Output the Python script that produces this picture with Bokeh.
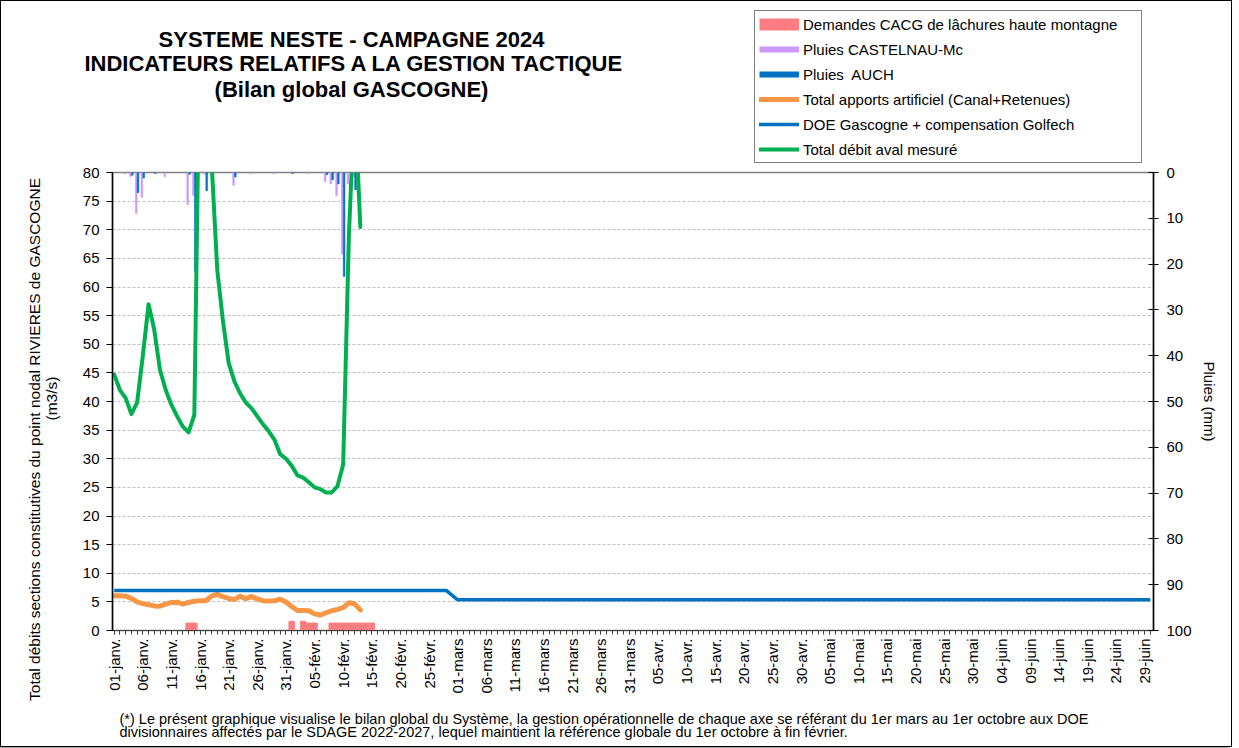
from math import pi
from bokeh.plotting import figure
from bokeh.layouts import row, column
from bokeh.models import (Range1d, LinearAxis, FixedTicker, Label, Legend, LegendItem,
                          ColumnDataSource)
from bokeh.transform import dodge
from bokeh.embed import file_html
from bokeh.resources import INLINE

# ---------------- data ----------------
# x axis: day index counted from 01-janv. 2024
tick_days = list(range(0, 181, 5))
tick_labels = ["01-janv.", "06-janv.", "11-janv.", "16-janv.", "21-janv.", "26-janv.", "31-janv.",
               "05-févr.", "10-févr.", "15-févr.", "20-févr.", "25-févr.",
               "01-mars", "06-mars", "11-mars", "16-mars", "21-mars", "26-mars", "31-mars",
               "05-avr.", "10-avr.", "15-avr.", "20-avr.", "25-avr.", "30-avr.",
               "05-mai", "10-mai", "15-mai", "20-mai", "25-mai", "30-mai",
               "04-juin", "09-juin", "14-juin", "19-juin", "24-juin", "29-juin"]
all_days = list(range(0, 182))

# Total débit aval mesuré (m3/s), days 0..43
green_days = list(range(0, 44))
green_vals = [44.7, 42.0, 40.6, 37.8, 39.8, 48.0, 57.0, 52.5, 45.5, 42.0,
              39.4, 37.4, 35.6, 34.6, 37.7, 108.0, 110.0, 82.0, 63.0, 54.0,
              46.7, 43.5, 41.4, 39.8, 38.8, 37.4, 36.0, 34.8, 33.3, 30.8,
              30.0, 28.8, 27.1, 26.7, 25.9, 25.0, 24.7, 24.1, 24.1, 25.2,
              29.0, 69.0, 93.0, 70.5]

# Total apports artificiel (Canal+Retenues), days 0..43
orange_days = list(range(0, 44))
orange_vals = [6.05, 6.05, 6.0, 5.6, 5.0, 4.7, 4.5, 4.3, 4.25, 4.6,
               4.9, 4.95, 4.6, 4.9, 5.1, 5.2, 5.2, 6.0, 6.3, 5.9,
               5.6, 5.4, 6.0, 5.55, 5.95, 5.5, 5.2, 5.15, 5.2, 5.45,
               5.0, 4.2, 3.5, 3.5, 3.45, 2.9, 2.7, 3.1, 3.45, 3.7,
               4.0, 4.85, 4.65, 3.6]

# DOE Gascogne + compensation Golfech
doe_days = [0, 58, 60, 181]
doe_vals = [7.0, 7.0, 5.35, 5.35]

# Demandes CACG de lâchures haute montagne
cacg_days = [13, 14, 31, 33, 34, 35, 38, 39, 40, 41, 42, 43, 44, 45]
cacg_vals = [1.3, 1.3, 1.6, 1.6, 1.3, 1.3, 1.3, 1.3, 1.3, 1.3, 1.3, 1.3, 1.3, 1.3]

# Pluies (mm) - right axis, reversed
castelnau_days = [2, 3, 4, 5, 9, 13, 14, 16, 21, 24, 28, 34, 37, 38, 39, 40, 41, 42]
castelnau_mm = [0.3, 0.9, 8.9, 5.4, 0.9, 7.0, 5.0, 0.4, 2.8, 0.3, 0.3, 0.2, 2.0, 2.5, 5.1, 17.8, 2.5, 1.0]
auch_days = [3, 4, 5, 7, 13, 14, 16, 21, 31, 37, 38, 39, 40, 42]
auch_mm = [0.6, 4.4, 1.2, 0.2, 0.4, 21.6, 4.0, 1.0, 0.2, 0.5, 1.6, 2.5, 22.7, 3.8]

left_ticks = list(range(0, 81, 5))
right_ticks = list(range(0, 101, 10))

FONT = "Liberation Sans"
C_PINK, C_PURPLE, C_BLUE = "#FF7C80", "#CC99FF", "#0070C0"
C_ORANGE, C_GREEN = "#F79646", "#00B050"
NAN = float("nan")

# page geometry (pixels)
W, H = 1230, 745
LEFT_W = 65          # left strip holding the vertical axis title
HEAD_H = 162         # header with title and legend
FOOT_H = 40          # footnote strip
MAIN_W = W - LEFT_W
MAIN_H = H - HEAD_H - FOOT_H
BL, BR = 46, 78      # main chart left / right borders


def blank(width, height, x0, x1, y0, y1, bl=0, br=0):
    f = figure(width=width, height=height, output_backend="svg", toolbar_location=None,
               x_range=Range1d(x0, x1), y_range=Range1d(y1, y0),
               x_axis_type=None, y_axis_type=None, min_border=0,
               min_border_left=bl, min_border_right=br, min_border_top=0, min_border_bottom=0,
               background_fill_color="white", border_fill_color="white")
    f.outline_line_color = None
    f.grid.visible = False
    return f


def lab(f, text, px, py, size, bold=False, angle=0, align="center"):
    f.add_layout(Label(x=px, y=py, text=text, text_font=FONT, text_font_size=size,
                       text_align=align, text_baseline="middle", angle=angle,
                       text_font_style="bold" if bold else "normal", text_color="#000000"))


# ---------------- main chart ----------------
p = figure(width=MAIN_W, height=MAIN_H, output_backend="svg", toolbar_location=None,
           x_range=Range1d(-0.3, 181.57), y_range=Range1d(0, 80),
           min_border_left=BL, min_border_right=BR, min_border_top=9, min_border_bottom=76,
           background_fill_color="white", border_fill_color="white")
p.extra_y_ranges = {"rain": Range1d(100, 0)}
p.outline_line_color = "#808080"
p.outline_line_width = 1.5

xa = p.xaxis[0]
xa.ticker = FixedTicker(ticks=tick_days, minor_ticks=all_days)
xa.major_label_overrides = {d: t for d, t in zip(tick_days, tick_labels)}
xa.major_label_orientation = pi / 2
xa.major_label_text_font = FONT
xa.major_label_text_font_size = "15px"
xa.major_label_text_color = "#000000"
xa.major_label_standoff = 4
xa.major_tick_in = 0
xa.major_tick_out = 4
xa.minor_tick_in = 0
xa.minor_tick_out = 4
xa.axis_line_color = "#404040"
xa.major_tick_line_color = "#404040"
xa.minor_tick_line_color = "#404040"

ya = p.yaxis[0]
ya.ticker = FixedTicker(ticks=left_ticks)
ya.major_label_text_font = FONT
ya.major_label_text_font_size = "15px"
ya.major_label_text_color = "#000000"
ya.major_label_standoff = 7
ya.major_tick_in = 0
ya.major_tick_out = 6
ya.minor_tick_line_color = None
ya.axis_line_color = "#000000"
ya.axis_line_width = 1.5

ra = LinearAxis(y_range_name="rain", ticker=FixedTicker(ticks=right_ticks), axis_label="Pluies (mm)")
ra.major_label_text_font = FONT
ra.major_label_text_font_size = "15px"
ra.major_label_text_color = "#000000"
ra.major_label_standoff = 8
ra.major_tick_in = 5
ra.major_tick_out = 5
ra.minor_tick_line_color = None
ra.axis_line_color = "#000000"
ra.axis_line_width = 1.5
ra.axis_label_text_font = FONT
ra.axis_label_text_font_size = "15px"
ra.axis_label_text_font_style = "normal"
ra.axis_label_text_color = "#000000"
ra.axis_label_standoff = 6
p.add_layout(ra, "right")

p.xgrid.visible = False
p.ygrid.ticker = FixedTicker(ticks=left_ticks)
p.ygrid.grid_line_color = "#BFBFBF"
p.ygrid.grid_line_dash = "3 2"
p.ygrid.grid_line_width = 1

cacg_src = ColumnDataSource(dict(day=cacg_days, val=cacg_vals))
p.vbar(x="day", top="val", width=0.95, source=cacg_src, fill_color=C_PINK, line_color=C_PINK)

cas_src = ColumnDataSource(dict(day=castelnau_days, mm=castelnau_mm))
p.vbar(x=dodge("day", -0.16), top=0, bottom="mm", width=0.3, source=cas_src,
       y_range_name="rain", fill_color=C_PURPLE, line_color=C_PURPLE, line_width=0.5)
auch_src = ColumnDataSource(dict(day=auch_days, mm=auch_mm))
p.vbar(x=dodge("day", 0.16), top=0, bottom="mm", width=0.3, source=auch_src,
       y_range_name="rain", fill_color=C_BLUE, line_color=C_BLUE, line_width=0.5)

p.line(orange_days, orange_vals, line_width=5, line_color=C_ORANGE, line_join="round", line_cap="round")
p.line(doe_days, doe_vals, line_width=3.5, line_color=C_BLUE)
p.line(green_days, green_vals, line_width=4, line_color=C_GREEN, line_join="round", line_cap="round")

# ---------------- header: title + legend ----------------
head = blank(W, HEAD_H, 0, W, 0, HEAD_H)
lab(head, "SYSTEME NESTE - CAMPAGNE 2024", 350, 38, "22px", bold=True)
lab(head, "INDICATEURS RELATIFS A LA GESTION TACTIQUE", 353, 62, "22px", bold=True)
lab(head, "(Bilan global GASCOGNE)", 350, 88, "22px", bold=True)

lg_pink = head.line(x=[NAN], y=[NAN], line_width=12, line_color=C_PINK)
lg_purple = head.line(x=[NAN], y=[NAN], line_width=6, line_color=C_PURPLE)
lg_auch = head.line(x=[NAN], y=[NAN], line_width=6, line_color=C_BLUE)
lg_orange = head.line(x=[NAN], y=[NAN], line_width=5, line_color=C_ORANGE, line_cap="round")
lg_doe = head.line(x=[NAN], y=[NAN], line_width=3.5, line_color=C_BLUE, line_cap="round")
lg_green = head.line(x=[NAN], y=[NAN], line_width=4, line_color=C_GREEN, line_cap="round")

legend = Legend(items=[
    LegendItem(label="Demandes CACG de lâchures haute montagne", renderers=[lg_pink]),
    LegendItem(label="Pluies CASTELNAU-Mc", renderers=[lg_purple]),
    LegendItem(label="Pluies  AUCH", renderers=[lg_auch]),
    LegendItem(label="Total apports artificiel (Canal+Retenues)", renderers=[lg_orange]),
    LegendItem(label="DOE Gascogne + compensation Golfech", renderers=[lg_doe]),
    LegendItem(label="Total débit aval mesuré", renderers=[lg_green]),
], location=(753, 0), orientation="vertical",
    glyph_width=40, glyph_height=18, label_height=18, spacing=7, padding=4,
    label_standoff=4, label_width=334, margin=0,
    label_text_font=FONT, label_text_font_size="15px", label_text_color="#000000",
    border_line_color="#000000", border_line_width=1, background_fill_color="white",
    background_fill_alpha=1.0)
head.add_layout(legend)

# ---------------- left strip: vertical axis title ----------------
left = blank(LEFT_W, H - HEAD_H, 0, LEFT_W, HEAD_H, H)
lab(left, "Total débits sections constitutives du point nodal RIVIERES de GASCOGNE", 33, 438, "15.5px", angle=pi / 2)
lab(left, "(m3/s)", 50, 397, "15.5px", angle=pi / 2)

# ---------------- footer: note ----------------
foot = blank(MAIN_W, FOOT_H, LEFT_W + BL, W - BR, H - FOOT_H, H, bl=BL, br=BR)
lab(foot, "(*) Le présent graphique visualise le bilan global du Système, la gestion opérationnelle de chaque axe "
          "se référant du 1er mars au 1er octobre aux DOE", 118, 717, "14.5px", align="left")
lab(foot, "divisionnaires affectés par le SDAGE 2022-2027, lequel maintient la référence globale du "
          "1er octobre à fin février.", 118, 730, "14.5px", align="left")

page = column(head, row(left, column(p, foot, spacing=0), spacing=0), spacing=0)
page.styles = {"border": "1px solid #000000", "box-shadow": "-3px 3px 4px #9a9a9a"}

open("out.html", "w").write(file_html(page, INLINE))
